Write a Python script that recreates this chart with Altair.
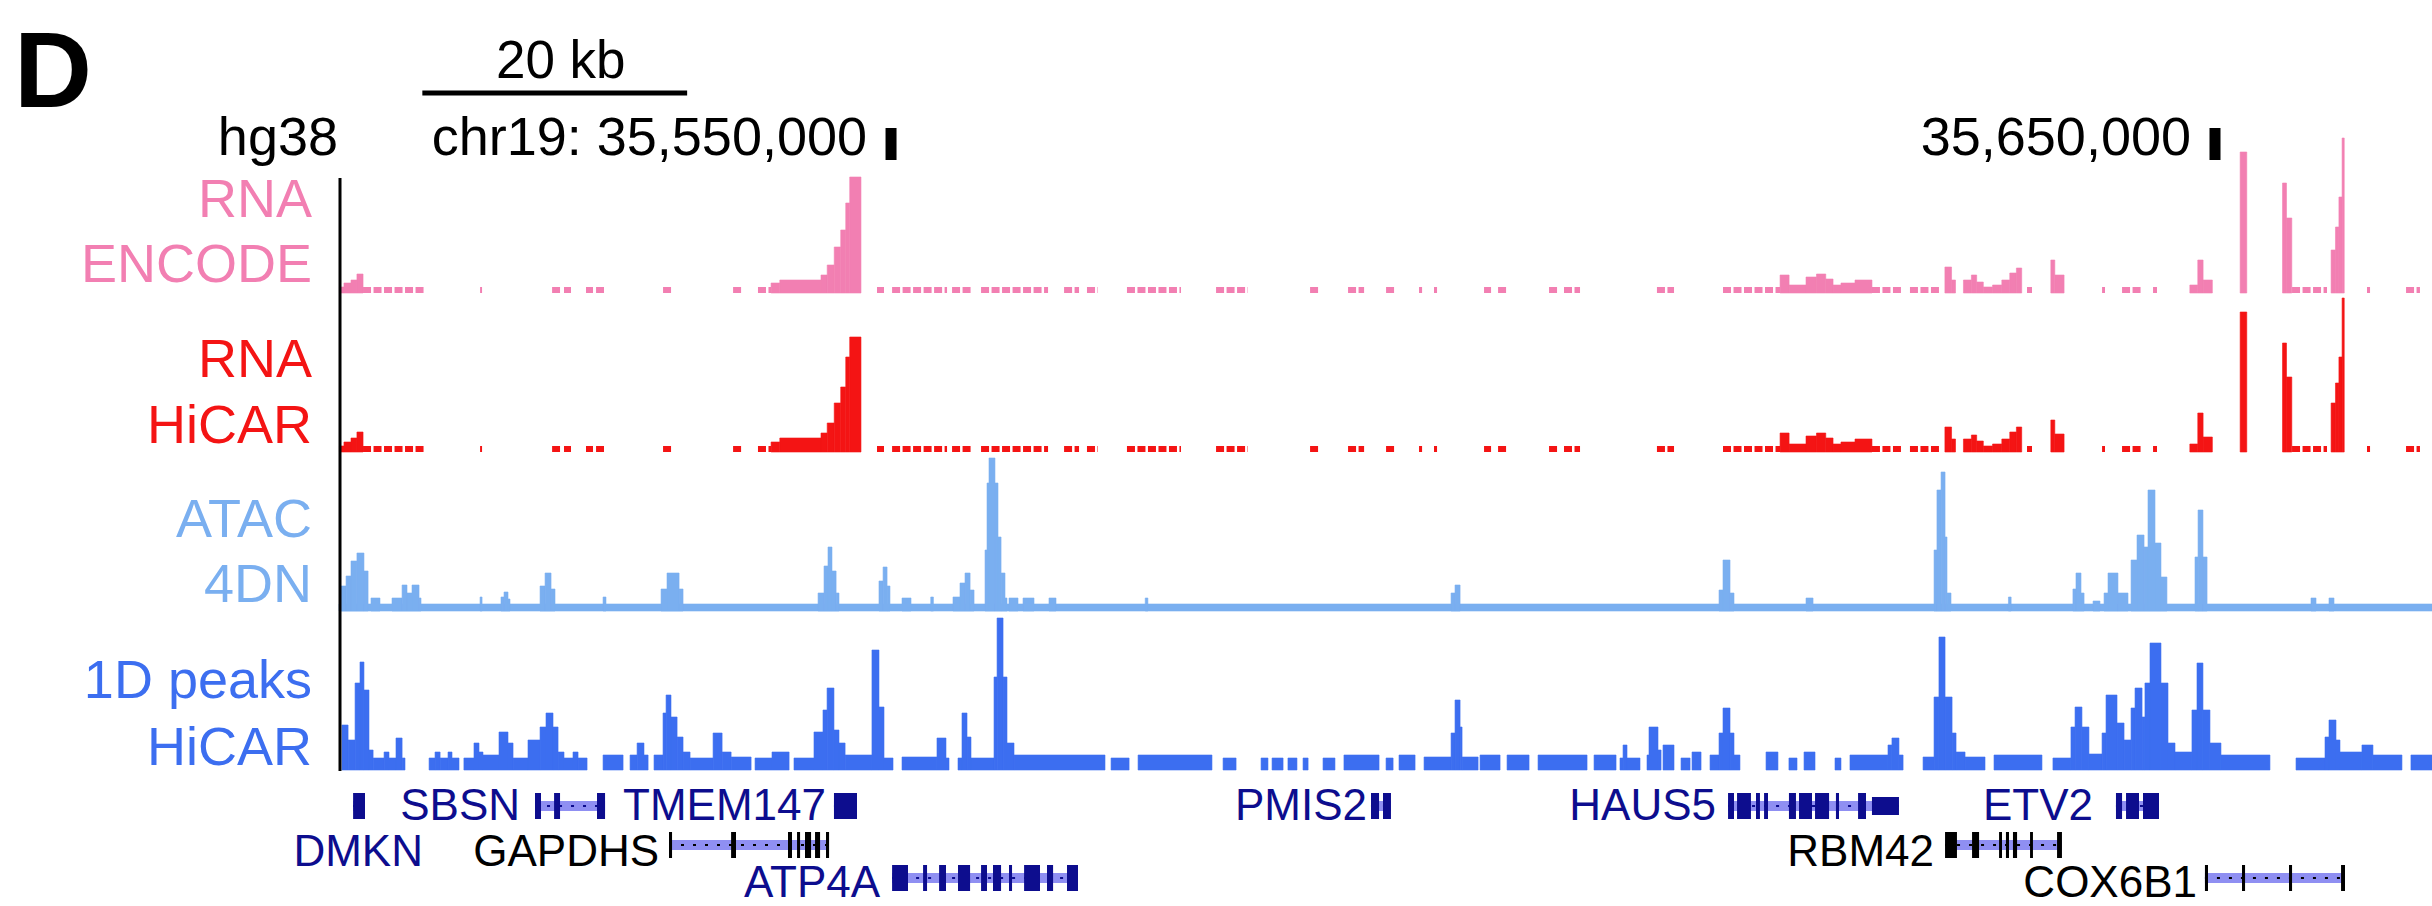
import altair as alt
import pandas as pd

# ---------------------------------------------------------------
# Genomic frame: positions are kb past chr19:35,500,000 (hg38)
# ---------------------------------------------------------------
FIG_LEFT_KB, FIG_RIGHT_KB = -17.30, 166.39      # span covered by the figure width
TRACK_START_KB, TRACK_END_KB = 8.31, 166.39     # visible browser window

ruler_tick_kb = [50, 150]
ruler_tick_label = ["chr19: 35,550,000", "35,650,000"]
scale_bar_start_kb = 14.6
scale_bar_len_kb = 20

# ---------------- RNA tracks (ENCODE / HiCAR) -----------------
# low-coverage baseline bins shared by both RNA tracks (start, end)
rna_low_bins = [
    (10.12, 14.80), (18.96, 19.11), (24.40, 25.00), (25.30, 25.83), (26.96, 27.49),
    (27.72, 28.32), (32.78, 33.46), (38.07, 38.75), (39.95, 40.94), (48.94, 49.47),
    (50.08, 54.23), (54.61, 56.19), (56.80, 61.86), (63.07, 64.20), (64.80, 65.63),
    (67.82, 71.90), (74.55, 76.96), (81.65, 82.33), (84.52, 85.73), (87.39, 88.07),
    (89.88, 90.11), (91.01, 91.24), (94.79, 95.32), (95.85, 96.53), (99.70, 100.38),
    (100.83, 102.04), (107.85, 109.14), (112.84, 117.15), (124.09, 126.44),
    (126.96, 129.15), (135.80, 136.18), (141.47, 141.69), (142.98, 144.49),
    (145.32, 145.62), (155.82, 158.46), (161.48, 161.71), (164.43, 165.48),
]
RNA_LOW_LEVEL = 6

# signal bins: (start, end, ENCODE signal, HiCAR RNA signal)
rna_bins = [
    (8.34, 8.68, 6, 6), (8.68, 9.21, 10, 10), (9.21, 9.66, 13, 14), (9.66, 10.12, 19, 20),
    (40.94, 41.60, 10, 10), (41.60, 44.71, 13, 14), (44.71, 45.18, 18, 19),
    (45.18, 45.71, 28, 29), (45.71, 46.20, 46, 49), (46.20, 46.58, 63, 65),
    (46.58, 46.88, 90, 95), (46.88, 47.73, 116, 115),
    (117.15, 117.83, 18, 19), (117.83, 119.11, 8, 8), (119.11, 119.90, 16, 16),
    (119.90, 120.60, 19, 19), (120.60, 121.15, 14, 14), (121.15, 121.75, 8, 8),
    (121.75, 122.81, 10, 10), (122.81, 124.09, 13, 13),
    (129.60, 130.10, 26, 25), (130.10, 130.40, 13, 13), (131.00, 131.60, 13, 13),
    (131.60, 132.00, 18, 17), (132.00, 132.50, 11, 11), (132.50, 133.20, 6, 6),
    (133.20, 133.90, 8, 8), (133.90, 134.50, 13, 13), (134.50, 135.00, 20, 20),
    (135.00, 135.40, 25, 25),
    (137.60, 137.90, 33, 32), (137.90, 138.60, 18, 18),
    (148.10, 148.70, 8, 8), (148.70, 149.10, 33, 39), (149.10, 149.80, 13, 15),
    (151.90, 152.40, 141, 140),
    (155.10, 155.40, 110, 109), (155.40, 155.80, 75, 75),
    (158.77, 159.10, 43, 49), (159.10, 159.36, 66, 69), (159.36, 159.60, 96, 95),
    (159.60, 159.76, 155, 154),
]
ENCODE_MAX, HICAR_RNA_MAX = 117, 116

# ---------------- ATAC 4DN -----------------
ATAC_FLOOR = 7
atac_bins = [
    (8.38, 8.84, 25), (8.84, 9.21, 35), (9.21, 9.66, 50), (9.66, 10.19, 58), (10.19, 10.50, 40),
    (10.72, 11.40, 13), (12.31, 13.07, 13), (13.07, 13.44, 26), (13.44, 13.82, 18),
    (13.82, 14.35, 26), (14.35, 14.50, 13),
    (18.96, 19.11, 14), (20.54, 20.77, 14), (20.77, 21.07, 19), (21.07, 21.22, 12),
    (23.49, 23.87, 25), (23.87, 24.32, 38), (24.32, 24.62, 22), (28.25, 28.47, 14),
    (32.63, 33.08, 22), (33.08, 33.99, 38), (33.99, 34.29, 22),
    (44.49, 44.94, 18), (44.94, 45.24, 45), (45.24, 45.54, 64), (45.54, 45.85, 40),
    (45.85, 46.07, 18),
    (49.09, 49.40, 30), (49.40, 49.70, 44), (49.70, 49.92, 25), (50.83, 51.51, 13),
    (53.00, 53.20, 14),
    (54.68, 55.21, 14), (55.21, 55.59, 28), (55.59, 55.97, 38), (55.97, 56.27, 21),
    (57.10, 57.25, 61), (57.25, 57.40, 128), (57.40, 57.85, 153), (57.85, 58.08, 128),
    (58.08, 58.31, 74), (58.31, 58.61, 38), (58.61, 58.76, 13),
    (58.91, 59.59, 13), (59.97, 60.80, 13), (61.93, 62.46, 13), (69.20, 69.40, 13),
    (92.30, 92.60, 18), (92.60, 92.98, 26),
    (112.54, 112.84, 21), (112.84, 113.37, 51), (113.37, 113.67, 18),
    (119.11, 119.64, 13),
    (128.78, 129.00, 61), (129.00, 129.31, 121), (129.31, 129.61, 139), (129.61, 129.76, 74),
    (129.76, 130.06, 18),
    (134.40, 134.60, 14), (139.27, 139.50, 22), (139.50, 139.88, 38), (139.88, 140.11, 18),
    (140.79, 141.31, 10),
    (141.62, 141.92, 18), (141.92, 142.67, 38), (142.67, 143.43, 18),
    (143.66, 144.11, 51), (144.11, 144.64, 76), (144.64, 144.94, 64), (144.94, 145.47, 121),
    (145.47, 145.92, 68), (145.92, 146.37, 34),
    (148.49, 148.72, 54), (148.72, 149.09, 101), (149.09, 149.40, 54),
    (157.25, 157.63, 13), (158.61, 158.99, 13),
]
ATAC_MAX = 153

# ---------------- 1D peaks HiCAR -----------------
peak_bins = [
    (8.53, 8.99, 45), (8.99, 9.52, 30), (9.52, 9.89, 87), (9.89, 10.19, 108), (10.19, 10.57, 80),
    (10.57, 10.88, 20), (10.88, 11.71, 12), (11.71, 12.08, 18), (12.08, 12.61, 12),
    (12.61, 13.07, 32), (13.07, 13.29, 12),
    (15.11, 15.56, 12), (15.56, 15.94, 18), (15.94, 16.54, 12), (16.54, 16.84, 18),
    (16.84, 17.37, 12),
    (17.74, 18.50, 12), (18.50, 18.88, 27), (18.88, 19.18, 18), (19.18, 20.39, 15),
    (20.39, 21.07, 38), (21.07, 21.45, 27), (21.45, 22.58, 12), (22.58, 23.49, 30),
    (23.49, 23.94, 43), (23.94, 24.47, 57), (24.47, 24.85, 43), (24.85, 25.30, 18),
    (25.30, 25.98, 12), (25.98, 26.36, 18), (26.36, 27.04, 12),
    (28.25, 29.76, 15),
    (30.29, 30.82, 15), (30.82, 31.34, 27), (31.34, 31.65, 15),
    (32.10, 32.78, 15), (32.78, 33.01, 57), (33.01, 33.38, 75), (33.38, 33.84, 53),
    (33.84, 34.29, 33), (34.29, 34.82, 18), (34.82, 36.56, 12), (36.56, 37.24, 37),
    (37.24, 37.92, 18), (37.92, 39.43, 13),
    (39.73, 41.01, 12), (41.01, 42.30, 18),
    (42.67, 44.18, 12), (44.18, 44.86, 38), (44.86, 45.17, 60), (45.17, 45.69, 82),
    (45.69, 46.07, 40), (46.07, 46.53, 27), (46.53, 48.56, 15), (48.56, 49.09, 120),
    (49.09, 49.47, 63), (49.47, 50.15, 12),
    (50.83, 53.47, 13), (53.47, 54.15, 32), (54.15, 54.38, 12),
    (55.06, 55.36, 12), (55.36, 55.74, 57), (55.74, 56.04, 33), (56.04, 57.78, 12),
    (57.78, 58.01, 93), (58.01, 58.46, 152), (58.46, 58.76, 93), (58.76, 59.29, 27),
    (59.29, 66.16, 15),
    (66.62, 67.98, 12), (68.66, 74.24, 15), (75.08, 76.06, 12), (77.95, 78.47, 12),
    (78.78, 79.61, 12), (79.98, 80.66, 12), (81.12, 81.50, 12), (82.63, 83.53, 12),
    (84.21, 86.86, 15), (87.39, 87.92, 12), (88.37, 89.58, 15),
    (90.26, 92.30, 13), (92.30, 92.60, 37), (92.60, 92.98, 70), (92.98, 93.13, 43),
    (93.13, 94.34, 13), (94.49, 96.00, 15), (96.53, 98.19, 15), (98.87, 102.57, 15),
    (103.10, 104.76, 15), (105.06, 105.29, 12), (105.29, 105.59, 25), (105.59, 106.57, 12),
    (107.10, 107.25, 15), (107.25, 107.93, 43), (107.93, 108.16, 20), (108.31, 109.14, 25),
    (109.67, 110.35, 12), (110.50, 111.18, 18),
    (111.86, 112.54, 15), (112.54, 112.84, 37), (112.84, 113.37, 62), (113.37, 113.67, 37),
    (113.67, 114.12, 15),
    (116.09, 116.99, 18), (117.82, 118.43, 12), (118.96, 119.79, 18), (121.30, 121.75, 12),
    (122.43, 125.30, 15), (125.30, 125.60, 25), (125.60, 126.13, 32), (126.13, 126.44, 15),
    (127.95, 128.78, 13), (128.78, 129.15, 73), (129.15, 129.61, 133), (129.61, 130.14, 73),
    (130.14, 130.44, 37), (130.44, 131.12, 18), (131.12, 132.63, 13),
    (133.31, 136.93, 15),
    (137.76, 139.12, 12), (139.12, 139.43, 43), (139.43, 139.95, 63), (139.95, 140.48, 43),
    (140.48, 141.47, 16), (141.47, 141.77, 37), (141.77, 142.60, 75), (142.60, 143.13, 47),
    (143.13, 143.66, 30), (143.66, 143.96, 62), (143.96, 144.49, 82), (144.49, 144.71, 53),
    (144.71, 145.09, 87), (145.09, 145.92, 127), (145.92, 146.45, 87), (146.45, 146.98, 27),
    (146.98, 148.26, 18), (148.26, 148.64, 60), (148.64, 149.09, 107), (149.09, 149.62, 60),
    (149.62, 150.45, 27), (150.45, 154.15, 15),
    (156.12, 158.31, 12), (158.31, 158.61, 33), (158.61, 159.14, 50), (159.14, 159.44, 30),
    (159.44, 161.10, 18), (161.10, 161.93, 25), (161.93, 164.12, 15), (164.80, 166.39, 15),
]
PEAK_MAX = 152

# ---------------- genes -----------------
gene_names = ["DMKN", "SBSN", "TMEM147", "PMIS2", "HAUS5", "ETV2",
              "GAPDHS", "RBM42", "ATP4A", "COX6B1"]
gene_start = [9.37, 23.11, 45.69, 86.25, 113.22, 142.52, 33.23, 129.61, 50.08, 149.24]
gene_end = [10.27, 28.40, 47.43, 87.76, 126.13, 145.77, 45.32, 138.44, 64.12, 159.82]
gene_row = [1, 1, 1, 1, 1, 1, 2, 2, 3, 3]
gene_status = ["reviewed"] * 6 + ["other", "other", "reviewed", "other"]
label_end_kb = [14.65, 21.98, 45.09, 85.95, 112.31, 140.79, 32.48, 128.78, 49.17, 148.64]
label_row = [2, 1, 1, 1, 1, 1, 2, 2, 3, 3]

exons = {
    "DMKN": [(9.37, 10.27)],
    "SBSN": [(23.11, 23.56), (24.55, 25.00), (27.79, 28.40)],
    "TMEM147": [(45.69, 47.43)],
    "PMIS2": [(86.25, 86.86), (87.16, 87.76)],
    "HAUS5": [(113.22, 113.67), (113.90, 114.95), (115.33, 115.63), (115.94, 116.24),
              (117.82, 118.35), (118.58, 119.56), (119.79, 120.85), (121.37, 121.60),
              (123.04, 123.64)],
    "ETV2": [(142.52, 142.98), (143.28, 144.26), (144.56, 145.77)],
    "GAPDHS": [(33.23, 33.46), (37.92, 38.29), (42.22, 42.52), (42.90, 43.13),
               (43.50, 43.96), (44.26, 44.64), (45.09, 45.32)],
    "RBM42": [(129.61, 130.51), (131.65, 132.18), (133.69, 133.91), (134.21, 134.44),
              (134.74, 135.05), (136.03, 136.25), (138.07, 138.44)],
    "ATP4A": [(50.08, 51.28), (52.42, 52.72), (53.63, 54.15), (55.06, 55.97), (56.80, 57.25),
              (57.70, 58.31), (58.91, 59.14), (60.05, 61.25), (61.78, 62.24), (63.29, 64.12)],
    "COX6B1": [(149.24, 149.47), (152.04, 152.27), (155.59, 155.82), (159.52, 159.82)],
}
utrs = {"HAUS5": [(124.09, 126.13)]}

# ---------------- styling -----------------
FONT = "Liberation Sans"
PINK, RED = "#f27fb2", "#f41414"
ATAC_BLUE, PEAK_BLUE = "#7aaff0", "#3c6ef0"
NAVY, LAVENDER = "#0d0d8e", "#8f8ff2"

W, H = 2432, 906
xs = alt.Scale(domain=[FIG_LEFT_KB, FIG_RIGHT_KB], nice=False, zero=False)


def yscale(vmax, base, top):
    return alt.Scale(domain=[0, vmax], range=[base, top], nice=False, zero=False)


enc_y = yscale(ENCODE_MAX, 293, 176)
hic_y = yscale(HICAR_RNA_MAX, 452, 336)
atac_y = yscale(ATAC_MAX, 611, 458)
peak_y = yscale(PEAK_MAX, 770, 618)

# ---------------- data frames -----------------
rna_df = pd.DataFrame(rna_bins, columns=["start", "end", "encode", "hicar"])
rna_df["zero"] = 0
low_df = pd.DataFrame(rna_low_bins, columns=["start", "end"])
low_df["mid"] = RNA_LOW_LEVEL / 2
atac_df = pd.DataFrame(atac_bins, columns=["start", "end", "v"])
atac_df["zero"] = 0
floor_df = pd.DataFrame({"start": [TRACK_START_KB], "end": [TRACK_END_KB],
                         "v": [ATAC_FLOOR], "zero": [0]})
peak_df = pd.DataFrame(peak_bins, columns=["start", "end", "v"])
peak_df["zero"] = 0

genes_df = pd.DataFrame({"name": gene_names, "start": gene_start, "end": gene_end,
                         "row": gene_row, "status": gene_status,
                         "label_end": label_end_kb, "label_row": label_row})
ex_rows = []
for g, st in zip(gene_names, gene_status):
    r = gene_row[gene_names.index(g)]
    for s, e in exons[g]:
        ex_rows.append({"name": g, "start": s, "end": e, "row": r, "status": st, "kind": "cds"})
    for s, e in utrs.get(g, []):
        ex_rows.append({"name": g, "start": s, "end": e, "row": r, "status": st, "kind": "utr"})
exon_df = pd.DataFrame(ex_rows)

row_y = alt.Scale(domain=[1, 2, 3], range=[806, 845, 878], nice=False, zero=False)
label_y = alt.Scale(domain=[1, 2, 3], range=[820, 866, 897], nice=False, zero=False)
status_color = alt.Scale(domain=["reviewed", "other"], range=[NAVY, "black"])

layers = []


def signal(df, col, ys, color):
    return alt.Chart(df).mark_rect(color=color, stroke=color, strokeWidth=0.6).encode(
        x=alt.X("start:Q", scale=xs, axis=None),
        x2="end:Q",
        y=alt.Y(f"{col}:Q", scale=ys, axis=None),
        y2="zero:Q",
    )


def low_dashes(ys, color):
    return alt.Chart(low_df).mark_rule(
        color=color, strokeWidth=RNA_LOW_LEVEL, strokeDash=[8, 2.5], strokeCap="butt"
    ).encode(
        x=alt.X("start:Q", scale=xs, axis=None),
        x2="end:Q",
        y=alt.Y("mid:Q", scale=ys, axis=None),
    )


layers += [low_dashes(enc_y, PINK), signal(rna_df, "encode", enc_y, PINK)]
layers += [low_dashes(hic_y, RED), signal(rna_df, "hicar", hic_y, RED)]
layers += [signal(floor_df, "v", atac_y, ATAC_BLUE), signal(atac_df, "v", atac_y, ATAC_BLUE)]
layers += [signal(peak_df, "v", peak_y, PEAK_BLUE)]

# vertical track divider
layers.append(alt.Chart(pd.DataFrame({"a": [0]})).mark_rule(color="black", strokeWidth=3).encode(
    x=alt.value(340), y=alt.value(178), y2=alt.value(771)))

# genes: intron lines
layers.append(alt.Chart(genes_df).mark_rule(color=LAVENDER, strokeWidth=10, strokeCap="butt").encode(
    x=alt.X("start:Q", scale=xs, axis=None), x2="end:Q",
    y=alt.Y("row:Q", scale=row_y, axis=None)))
layers.append(alt.Chart(genes_df).mark_rule(strokeWidth=2, strokeDash=[3, 9]).encode(
    x=alt.X("start:Q", scale=xs, axis=None), x2="end:Q",
    y=alt.Y("row:Q", scale=row_y, axis=None),
    color=alt.Color("status:N", scale=status_color, legend=None)))
# exons / UTRs
layers.append(alt.Chart(exon_df).mark_rule(strokeCap="butt").encode(
    x=alt.X("start:Q", scale=xs, axis=None), x2="end:Q",
    y=alt.Y("row:Q", scale=row_y, axis=None),
    size=alt.Size("kind:N", scale=alt.Scale(domain=["cds", "utr"], range=[26, 18]), legend=None),
    color=alt.Color("status:N", scale=status_color, legend=None)))
# gene names
layers.append(alt.Chart(genes_df).mark_text(font=FONT, fontSize=44, align="right",
                                            baseline="alphabetic").encode(
    x=alt.X("label_end:Q", scale=xs, axis=None),
    y=alt.Y("label_row:Q", scale=label_y, axis=None),
    text="name:N",
    color=alt.Color("status:N", scale=status_color, legend=None)))

# ruler ticks and labels
ruler_df = pd.DataFrame({"pos": ruler_tick_kb, "label": ruler_tick_label})
layers.append(alt.Chart(ruler_df).mark_rule(color="black", strokeWidth=11).encode(
    x=alt.X("pos:Q", scale=xs, axis=None), y=alt.value(128), y2=alt.value(160)))
layers.append(alt.Chart(ruler_df).mark_text(font=FONT, fontSize=54, align="right",
                                            baseline="alphabetic", dx=-24, color="black").encode(
    x=alt.X("pos:Q", scale=xs, axis=None), y=alt.value(155), text="label:N"))

# scale bar
bar_df = pd.DataFrame({"s": [scale_bar_start_kb], "e": [scale_bar_start_kb + scale_bar_len_kb],
                       "m": [scale_bar_start_kb + scale_bar_len_kb / 2],
                       "t": [f"{scale_bar_len_kb} kb"]})
layers.append(alt.Chart(bar_df).mark_rule(color="black", strokeWidth=5, strokeCap="butt").encode(
    x=alt.X("s:Q", scale=xs, axis=None), x2="e:Q", y=alt.value(93)))
layers.append(alt.Chart(bar_df).mark_text(font=FONT, fontSize=53, align="center",
                                          baseline="alphabetic", dx=6, color="black").encode(
    x=alt.X("m:Q", scale=xs, axis=None), y=alt.value(78), text="t:N"))

# static labels
one = pd.DataFrame({"a": [0]})


def label(text, x, y, color, size=54, align="right", weight="normal"):
    return alt.Chart(one).mark_text(text=text, font=FONT, fontSize=size, align=align,
                                    baseline="alphabetic", color=color,
                                    fontWeight=weight).encode(
        x=alt.value(x), y=alt.value(y))


layers += [
    label("D", 14, 107, "black", size=108, align="left", weight="bold"),
    label("hg38", 338, 155, "black"),
    label("RNA", 312, 217, PINK), label("ENCODE", 312, 282, PINK),
    label("RNA", 312, 377, RED), label("HiCAR", 312, 443, RED),
    label("ATAC", 312, 537, ATAC_BLUE), label("4DN", 312, 602, ATAC_BLUE),
    label("1D peaks", 312, 698, PEAK_BLUE), label("HiCAR", 312, 765, PEAK_BLUE),
]

chart = alt.layer(*layers).resolve_scale(y="independent").properties(
    width=W, height=H, padding=0, autosize=alt.AutoSizeParams(type="none"),
    background="white",
).configure_view(stroke=None)

chart.save("out.html", embed_options={"renderer": "svg", "actions": False})
